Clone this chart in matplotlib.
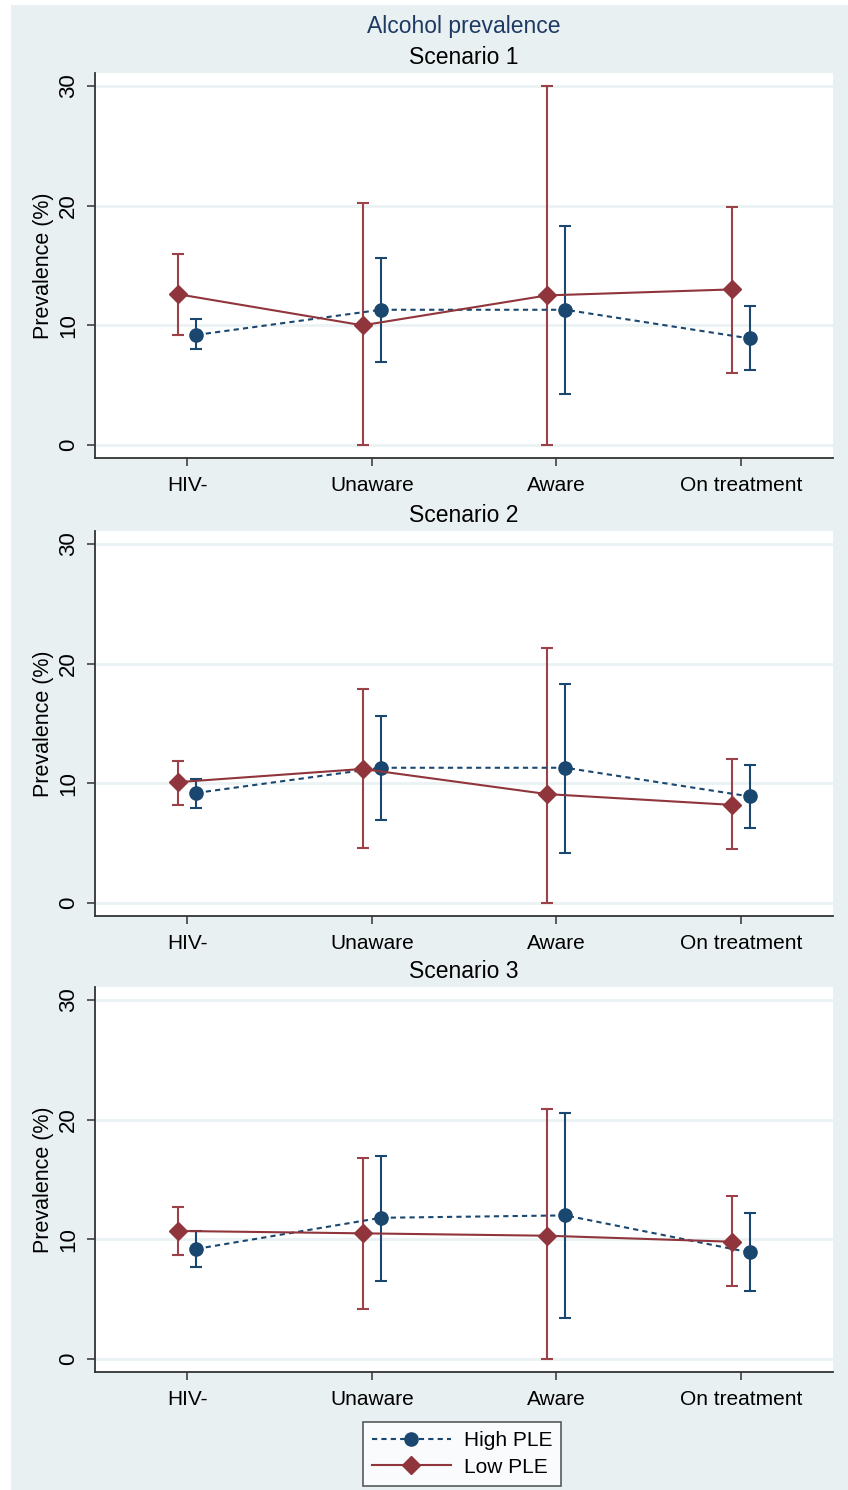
import numpy as np
import matplotlib
matplotlib.use("Agg")
import matplotlib.pyplot as plt
from matplotlib.patches import Rectangle

plt.rcParams["font.family"] = ["Liberation Sans", "DejaVu Sans"]

categories = ["HIV-", "Unaware", "Aware", "On treatment"]
scenarios = ["Scenario 1", "Scenario 2", "Scenario 3"]

# High PLE: estimate, lower and upper CI per scenario
high_est_1 = [9.2, 11.3, 11.3, 8.9]
high_lo_1 = [8.0, 6.9, 4.3, 6.3]
high_hi_1 = [10.5, 15.6, 18.3, 11.6]
high_est_2 = [9.2, 11.3, 11.3, 8.9]
high_lo_2 = [7.9, 6.9, 4.2, 6.3]
high_hi_2 = [10.4, 15.6, 18.3, 11.5]
high_est_3 = [9.2, 11.8, 12.0, 8.9]
high_lo_3 = [7.7, 6.5, 3.4, 5.7]
high_hi_3 = [10.7, 17.0, 20.6, 12.2]

# Low PLE
low_est_1 = [12.6, 10.0, 12.5, 13.0]
low_lo_1 = [9.2, 0.0, 0.0, 6.0]
low_hi_1 = [16.0, 20.2, 30.0, 19.9]
low_est_2 = [10.1, 11.2, 9.1, 8.2]
low_lo_2 = [8.2, 4.6, 0.0, 4.5]
low_hi_2 = [11.9, 17.9, 21.3, 12.0]
low_est_3 = [10.7, 10.5, 10.3, 9.8]
low_lo_3 = [8.7, 4.2, 0.0, 6.1]
low_hi_3 = [12.7, 16.8, 20.9, 13.6]

high = [(high_est_1, high_lo_1, high_hi_1),
        (high_est_2, high_lo_2, high_hi_2),
        (high_est_3, high_lo_3, high_hi_3)]
low = [(low_est_1, low_lo_1, low_hi_1),
       (low_est_2, low_lo_2, low_hi_2),
       (low_est_3, low_lo_3, low_hi_3)]

BLUE = "#1a476f"
RED = "#90353b"
RED_CI = "#9c4148"
BG = "#e9f0f2"
GRID = "#eaf2f3"
AXIS = "#333333"

W, H = 848, 1490
fig = plt.figure(figsize=(W / 100, H / 100), dpi=100)
fig.patches.append(Rectangle((11 / W, 0), 1 - 11 / W, 1 - 5 / H,
                             transform=fig.transFigure, facecolor=BG,
                             edgecolor="none", zorder=-10))

fig.text(464 / W, 1 - 26 / H, "Alcohol prevalence", ha="center", va="center",
         fontsize=16.5, color="#1e3a64")

# top pixel of each plot region
tops = [73, 531, 987]
title_y = [57, 515, 971]
x = np.arange(len(categories))
off = 0.05

handles = None
for i in range(3):
    top = tops[i]
    ax = fig.add_axes([95 / W, 1 - (top + 385) / H, 738 / W, 385 / H])
    ax.set_facecolor("white")

    h_est, h_lo, h_hi = [np.array(v) for v in high[i]]
    l_est, l_lo, l_hi = [np.array(v) for v in low[i]]

    ax.errorbar(x + off, h_est, yerr=[h_est - h_lo, h_hi - h_est], fmt="none",
                ecolor=BLUE, elinewidth=1.5, capsize=4.5, capthick=1.5, zorder=3)
    ax.errorbar(x - off, l_est, yerr=[l_est - l_lo, l_hi - l_est], fmt="none",
                ecolor=RED_CI, elinewidth=1.5, capsize=4.5, capthick=1.5, zorder=3)
    lh, = ax.plot(x + off, h_est, color=BLUE, lw=1.5, ls=(0, (2.5, 2)),
                  marker="o", ms=9.5, mec=BLUE, mfc=BLUE, zorder=4,
                  label="High PLE")
    ll, = ax.plot(x - off, l_est, color=RED, lw=1.5, ls="-",
                  marker="D", ms=9.5, mec=RED, mfc=RED, zorder=5,
                  label="Low PLE")
    handles = [lh, ll]

    ax.set_xlim(-0.5, 3.5)
    ax.set_ylim(-1.09, 31.09)
    ax.set_xticks(x)
    ax.set_xticklabels(categories, fontsize=15)
    ax.set_yticks([0, 10, 20, 30])
    ax.set_yticklabels(["0", "10", "20", "30"], fontsize=16, rotation=90,
                       va="center")
    ax.tick_params(axis="both", length=6, width=1.1, color=AXIS)
    ax.tick_params(axis="x", pad=7)
    ax.tick_params(axis="y", pad=5.5)
    for s in ["top", "right"]:
        ax.spines[s].set_visible(False)
    for s in ["left", "bottom"]:
        ax.spines[s].set_color(AXIS)
        ax.spines[s].set_linewidth(1.3)
    ax.grid(axis="y", color=GRID, lw=2)
    ax.set_axisbelow(True)
    ax.set_ylabel("Prevalence (%)", fontsize=15.5, labelpad=3)

    fig.text(464 / W, 1 - title_y[i] / H, scenarios[i], ha="center",
             va="center", fontsize=16.5, color="black")

leg = fig.legend(handles=handles, loc="center",
                 bbox_to_anchor=(462 / W, 1 - 1454 / H), fontsize=15,
                 handlelength=3.8, frameon=True, fancybox=False,
                 borderpad=0.45, labelspacing=0.35, handletextpad=0.6)
leg.get_frame().set_edgecolor(AXIS)
leg.get_frame().set_linewidth(1.2)

fig.savefig("out.png", dpi=100)
